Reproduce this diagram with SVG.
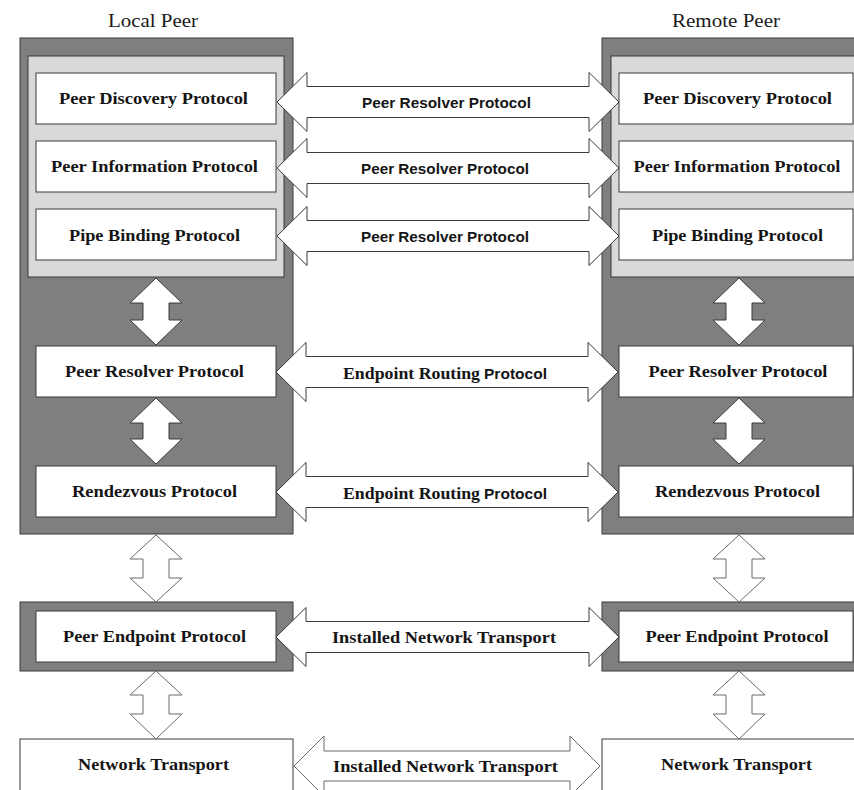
<svg xmlns="http://www.w3.org/2000/svg" width="854" height="790" viewBox="0 0 854 790">
<style>
.outer{fill:#7f7f7f;stroke:#3a3a3a;stroke-width:1}
.inner{fill:#d9d9d9;stroke:#3a3a3a;stroke-width:1}
.box{fill:#ffffff;stroke:#3a3a3a;stroke-width:1}
.title{font-family:"Liberation Serif",serif;font-size:18px;fill:#1a1a1a;text-anchor:middle}
.lbl{font-family:"Liberation Serif",serif;font-size:17.5px;font-weight:bold;fill:#151515;text-anchor:middle}
.albl{font-family:"Liberation Sans",sans-serif;font-size:15px;font-weight:bold;fill:#151515;text-anchor:middle}
.albs{font-family:"Liberation Serif",serif;font-size:17.5px;font-weight:bold;fill:#151515;text-anchor:middle}
.arr{fill:#ffffff;stroke:#3a3a3a;stroke-width:1}
.arr2{fill:#ffffff;stroke:#6a6a6a;stroke-width:1}
</style>
<rect width="854" height="790" fill="#ffffff"/>

<g id="local-peer">
  <text class="title" x="153" y="27" textLength="90" lengthAdjust="spacingAndGlyphs">Local Peer</text>
  <rect class="outer" x="20" y="38" width="273" height="496"/>
  <rect class="inner" x="28" y="56" width="256" height="221"/>
</g>
<g id="remote-peer">
  <text class="title" x="726" y="27" textLength="108" lengthAdjust="spacingAndGlyphs">Remote Peer</text>
  <rect class="outer" x="602" y="38" width="260" height="496"/>
  <rect class="inner" x="611" y="56" width="250" height="221"/>
</g>

<g id="local-discovery"><rect class="box" x="36" y="73" width="240" height="51"/><text class="lbl" x="153.5" y="104" textLength="189" lengthAdjust="spacingAndGlyphs">Peer Discovery Protocol</text></g>
<g id="local-information"><rect class="box" x="36" y="141" width="240" height="51"/><text class="lbl" x="154.5" y="172" textLength="207" lengthAdjust="spacingAndGlyphs">Peer Information Protocol</text></g>
<g id="local-pipe"><rect class="box" x="36" y="209" width="240" height="51"/><text class="lbl" x="154.5" y="240.5" textLength="171" lengthAdjust="spacingAndGlyphs">Pipe Binding  Protocol</text></g>
<g id="local-resolver"><rect class="box" x="36" y="346" width="240" height="51"/><text class="lbl" x="154.5" y="377" textLength="179" lengthAdjust="spacingAndGlyphs">Peer Resolver Protocol</text></g>
<g id="local-rendezvous"><rect class="box" x="36" y="466" width="240" height="51"/><text class="lbl" x="154.5" y="497" textLength="165" lengthAdjust="spacingAndGlyphs">Rendezvous Protocol</text></g>

<g id="remote-discovery"><rect class="box" x="619" y="73" width="234" height="51"/><text class="lbl" x="737.5" y="104" textLength="189" lengthAdjust="spacingAndGlyphs">Peer Discovery Protocol</text></g>
<g id="remote-information"><rect class="box" x="619" y="141" width="234" height="51"/><text class="lbl" x="737" y="172" textLength="207" lengthAdjust="spacingAndGlyphs">Peer Information Protocol</text></g>
<g id="remote-pipe"><rect class="box" x="619" y="209" width="234" height="51"/><text class="lbl" x="737.5" y="240.5" textLength="171" lengthAdjust="spacingAndGlyphs">Pipe Binding  Protocol</text></g>
<g id="remote-resolver"><rect class="box" x="619" y="346" width="234" height="51"/><text class="lbl" x="738" y="377" textLength="179" lengthAdjust="spacingAndGlyphs">Peer Resolver Protocol</text></g>
<g id="remote-rendezvous"><rect class="box" x="619" y="466" width="234" height="51"/><text class="lbl" x="737.5" y="497" textLength="165" lengthAdjust="spacingAndGlyphs">Rendezvous Protocol</text></g>

<g id="local-endpoint"><rect class="outer" x="20" y="602" width="273" height="69"/><rect class="box" x="36" y="611" width="240" height="51"/><text class="lbl" x="154.5" y="642" textLength="183" lengthAdjust="spacingAndGlyphs">Peer Endpoint Protocol</text></g>
<g id="remote-endpoint"><rect class="outer" x="602" y="602" width="260" height="69"/><rect class="box" x="619" y="611" width="234" height="51"/><text class="lbl" x="737" y="642" textLength="183" lengthAdjust="spacingAndGlyphs">Peer Endpoint Protocol</text></g>

<g id="local-network"><rect class="box" x="20" y="739" width="273" height="60"/><text class="lbl" x="153.5" y="770" textLength="151" lengthAdjust="spacingAndGlyphs">Network Transport</text></g>
<g id="remote-network"><rect class="box" x="602" y="739" width="260" height="60"/><text class="lbl" x="736.5" y="770" textLength="151" lengthAdjust="spacingAndGlyphs">Network Transport</text></g>

<g id="connectors">
  <polygon class="arr" points="277,102 307,72.5 307,86.5 589,86.5 589,72.5 619,102 589,131.5 589,117.5 307,117.5 307,131.5"/>
  <polygon class="arr" points="277,168 307,138.5 307,152.5 589,152.5 589,138.5 619,168 589,197.5 589,183.5 307,183.5 307,197.5"/>
  <polygon class="arr" points="277,236 307,206.5 307,220.5 589,220.5 589,206.5 619,236 589,265.5 589,251.5 307,251.5 307,265.5"/>
  <polygon class="arr" points="276,372 306,342.5 306,356.5 588,356.5 588,342.5 618,372 588,401.5 588,387.5 306,387.5 306,401.5"/>
  <polygon class="arr" points="276,492 306,462.5 306,476.5 588,476.5 588,462.5 618,492 588,521.5 588,507.5 306,507.5 306,521.5"/>
  <polygon class="arr" points="276,637 306,607.5 306,621.5 589,621.5 589,607.5 619,637 589,666.5 589,652.5 306,652.5 306,666.5"/>
  <polygon class="arr2" points="294,766 324,736 324,751 570,751 570,736 600,766 570,796 570,781 324,781 324,796"/>

  <polygon class="arr" points="156,278 182,303 169,303 169,320 182,320 156,345 130,320 143,320 143,303 130,303"/>
  <polygon class="arr" points="156,398 182,423 169,423 169,439 182,439 156,464 130,439 143,439 143,423 130,423"/>
  <polygon class="arr2" points="156,535 182,559 169,559 169,578 182,578 156,602 130,578 143,578 143,559 130,559"/>
  <polygon class="arr2" points="156,671 182,695 169,695 169,714 182,714 156,739 130,714 143,714 143,695 130,695"/>

  <polygon class="arr" points="739,278 765,303 752,303 752,320 765,320 739,345 713,320 726,320 726,303 713,303"/>
  <polygon class="arr" points="739,398 765,423 752,423 752,439 765,439 739,464 713,439 726,439 726,423 713,423"/>
  <polygon class="arr2" points="739,535 765,559 752,559 752,578 765,578 739,602 713,578 726,578 726,559 713,559"/>
  <polygon class="arr2" points="739,671 765,695 752,695 752,714 765,714 739,739 713,714 726,714 726,695 713,695"/>

  <text class="albl" x="446.5" y="108" textLength="169" lengthAdjust="spacingAndGlyphs">Peer Resolver Protocol</text>
  <text class="albl" x="445" y="173.5" textLength="168" lengthAdjust="spacingAndGlyphs">Peer Resolver Protocol</text>
  <text class="albl" x="445" y="241.5" textLength="168" lengthAdjust="spacingAndGlyphs">Peer Resolver Protocol</text>
  <text x="343" y="379" font-weight="bold" fill="#151515"><tspan font-family="Liberation Serif, serif" font-size="17.5" textLength="137" lengthAdjust="spacingAndGlyphs">Endpoint Routing</tspan><tspan x="484" font-family="Liberation Sans, sans-serif" font-size="15" textLength="63" lengthAdjust="spacingAndGlyphs">Protocol</tspan></text>
  <text x="343" y="498.5" font-weight="bold" fill="#151515"><tspan font-family="Liberation Serif, serif" font-size="17.5" textLength="137" lengthAdjust="spacingAndGlyphs">Endpoint Routing</tspan><tspan x="484" font-family="Liberation Sans, sans-serif" font-size="15" textLength="63" lengthAdjust="spacingAndGlyphs">Protocol</tspan></text>
  <text class="albs" x="444" y="643" textLength="224" lengthAdjust="spacingAndGlyphs">Installed Network Transport</text>
  <text class="albs" x="445.5" y="772" textLength="225" lengthAdjust="spacingAndGlyphs">Installed Network Transport</text>
</g>
</svg>
